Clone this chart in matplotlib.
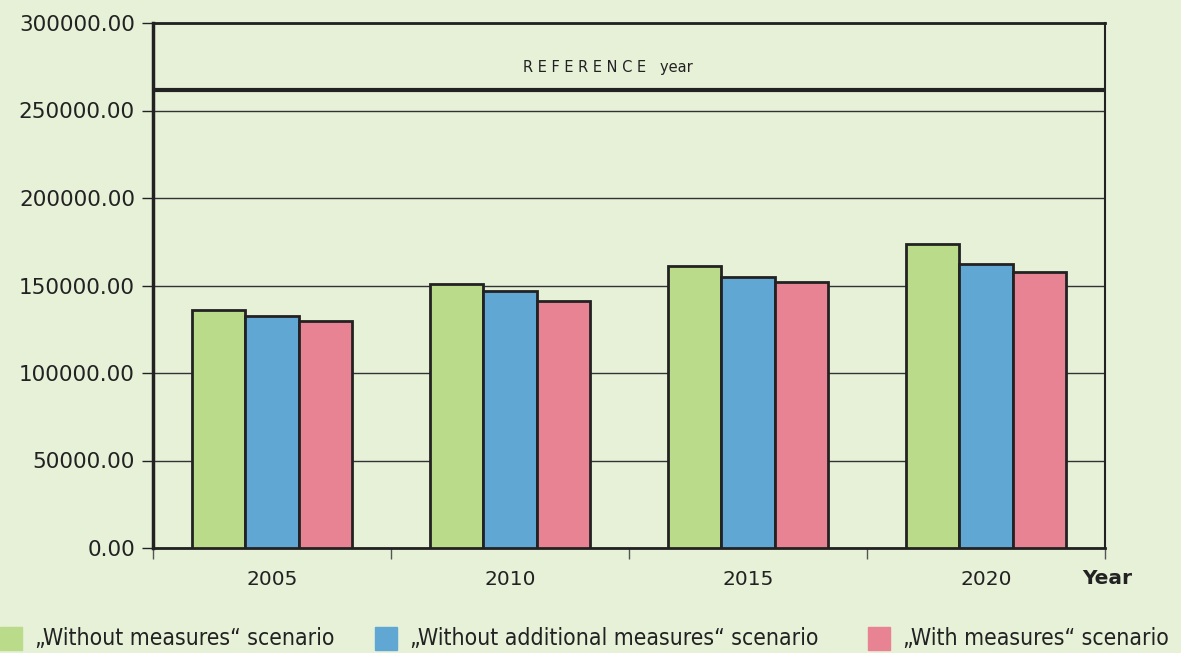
import matplotlib.pyplot as plt
import numpy as np
from matplotlib.patches import Rectangle

years = ["2005", "2010", "2015", "2020"]
without_measures = [136000, 151000, 161000, 173500]
without_additional = [132500, 147000, 155000, 162500]
with_measures = [130000, 141000, 152000, 158000]
labels = ["\u201eWithout measures\u201c scenario",
          "\u201eWithout additional measures\u201c scenario",
          "\u201eWith measures\u201c scenario"]
reference_value = 261700

bg = "#E6F1D8"
colors = ["#BADB8A", "#60A8D3", "#E88394"]

fig = plt.figure(figsize=(11.81, 6.53), dpi=100, facecolor=bg)
ax = fig.add_axes([153 / 1181, 1 - 548 / 653, 952 / 1181, 525 / 653])
ax.set_facecolor(bg)

x = np.arange(len(years))
w = 0.225
series = [without_measures, without_additional, with_measures]
for i, vals in enumerate(series):
    ax.bar(x + (i - 1) * w, vals, w, color=colors[i], edgecolor="#222222",
           linewidth=2, zorder=3)

ax.set_xlim(-0.5, len(years) - 0.5)
ax.set_ylim(0, 300000)

ax.set_yticks(np.arange(0, 300001, 50000))
ax.yaxis.set_major_formatter(plt.FuncFormatter(lambda v, p: "%.2f" % v))
ax.grid(axis="y", color="#333333", linewidth=1, zorder=1)
ax.tick_params(axis="y", length=8, width=1, labelsize=15.5, pad=5, colors="#222222")

ax.set_xticks(np.arange(-0.5, len(years), 1))
ax.set_xticklabels([])
ax.set_xticks(x, minor=True)
ax.set_xticklabels(years, minor=True, fontsize=14.5, color="#222222")
ax.tick_params(axis="x", which="major", length=8, width=1, direction="out", colors="#555555")
ax.tick_params(axis="x", which="minor", length=0, pad=16)

for side, lw in [("left", 2.5), ("top", 2), ("right", 1.5), ("bottom", 2)]:
    ax.spines[side].set_linewidth(lw)
    ax.spines[side].set_color("#222222")

ax.axhline(reference_value, color="#222222", linewidth=3, zorder=4)
ax.text(0.478, 0.915, "R E F E R E N C E   year", transform=ax.transAxes,
        ha="center", va="center", fontsize=10.5, color="#222222")

fig.text(1107 / 1181, 1 - 578 / 653, "Year", fontsize=14.5, fontweight="bold",
         ha="center", va="center", color="#222222")

# legend along the bottom
leg_x = [0, 375, 868]
for i, lab in enumerate(labels):
    fig.patches.append(Rectangle((leg_x[i] / 1181, 1 - 650 / 653), 22 / 1181, 23 / 653,
                                 transform=fig.transFigure, color=colors[i], figure=fig))
    fig.text((leg_x[i] + 35) / 1181, 1 - 638 / 653, lab, fontsize=16.5,
             family="DejaVu Sans", stretch="condensed", ha="left", va="center",
             color="#222222")

fig.savefig("out.png", dpi=100, facecolor=bg)
